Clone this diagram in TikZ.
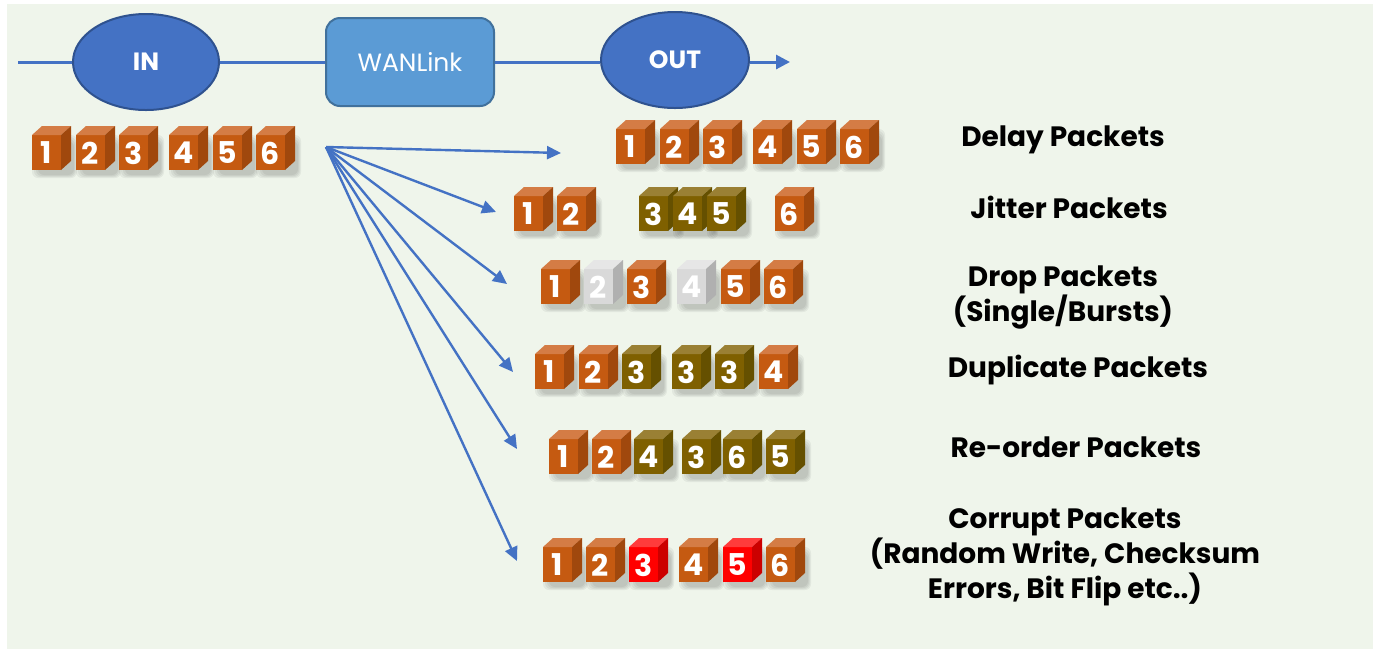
\documentclass[tikz,border=0pt]{standalone}
\usepackage{fontspec}
\setmainfont{Poppins}
\usetikzlibrary{arrows.meta,shapes.geometric}

\definecolor{bgcol}{HTML}{EFF5EB}
\definecolor{linecol}{HTML}{4472C4}
\definecolor{elledge}{HTML}{2F528F}
\definecolor{boxcol}{HTML}{5B9BD5}
\definecolor{boxedge}{HTML}{41719C}
% packet colours: F front, T top, S side
\definecolor{oF}{HTML}{C55A11}\definecolor{oT}{HTML}{D47C45}\definecolor{oS}{HTML}{A0480D}
\definecolor{gF}{HTML}{7F6000}\definecolor{gT}{HTML}{9A8034}\definecolor{gS}{HTML}{655000}
\definecolor{lF}{HTML}{D9D9D9}\definecolor{lT}{HTML}{E6E6E6}\definecolor{lS}{HTML}{B0B0B0}
\definecolor{rF}{HTML}{FF0000}\definecolor{rT}{HTML}{FF3B3B}\definecolor{rS}{HTML}{CC0000}

\pgfdeclarelayer{shade}
\pgfsetlayers{shade,main}

\tikzset{
  num/.style={text=white,font=\bfseries\fontsize{15}{15}\selectfont,inner sep=0pt},
  lbl/.style={align=center,font=\bfseries\fontsize{14}{17.5}\selectfont,inner sep=0pt},
  flow/.style={linecol,line width=1.5pt},
  arr/.style={linecol,line width=1.2pt,-{Triangle[length=7pt,width=6.5pt]}},
  ell/.style={ellipse,draw=elledge,line width=1pt,fill=linecol,text=white,
    font=\bfseries\fontsize{12.5}{12.5}\selectfont},
  wanbox/.style={rectangle,rounded corners=7pt,draw=boxedge,line width=1pt,fill=boxcol,
    text=white,font=\fontsize{12.5}{12.5}\selectfont,minimum width=84pt,minimum height=44pt}
}

% one packet: x, y (top left of front face), colour, number
\newcommand{\pkt}[4]{
\begin{pgfonlayer}{shade}
\foreach \s in {0,2,4,6}
\fill[black,opacity=.05,rounded corners=3pt] (#1+\s,#2+\s) rectangle (#1+45-\s/2,#2+43-\s/2);
\end{pgfonlayer}
\fill[fill=#3F] (#1,#2) rectangle +(29,35);
\fill[fill=#3T] (#1,#2) -- +(10,-9) -- +(39,-9) -- +(29,0) -- cycle;
\fill[fill=#3S] (#1+29,#2) -- +(10,-9) -- +(10,26) -- +(0,35) -- cycle;
\node[num] at (#1+14.5,#2+18) {#4};
}

\begin{document}
\begin{tikzpicture}[x=0.5pt,y=-0.5pt]
\useasboundingbox (0,0) rectangle (1373,650);
\begin{pgfonlayer}{shade}
\fill[bgcol] (7,4) rectangle (1373,649);
\end{pgfonlayer}

% link
\coordinate (start) at (18,62);
\coordinate (end) at (790,62);
\node[ell,minimum width=73pt,minimum height=48pt] (in) at (146,62) {IN};
\node[wanbox] (wan) at (410,62) {WANLink};
\node[ell,minimum width=74pt,minimum height=48pt] (out) at (675,60) {OUT};
\draw[flow] (start) -- (in);
\draw[flow] (in) -- (wan);
\draw[flow] (wan) -- (out.west |- wan);
\draw[flow,-{Triangle[length=7pt,width=7pt]}] (out.east |- end) -- (end);

% incoming packets
\foreach \x/\n in {32/1,76/2,119/3,169/4,213/5,256/6}
\pkt{\x}{135}{o}{\n};

% impairments
\coordinate (src) at (326,147);
\coordinate (tDelay) at (561,153);
\coordinate (tJitter) at (496,212);
\coordinate (tDrop) at (507,284);
\coordinate (tDup) at (513,372);
\coordinate (tReorder) at (517,449);
\coordinate (tCorrupt) at (517,561);
\foreach \t in {tDelay,tJitter,tDrop,tDup,tReorder,tCorrupt}
\draw[arr] (src) -- (\t);

\foreach \x/\n in {616/1,660/2,703/3,753/4,797/5,840/6}
\pkt{\x}{129}{o}{\n};
\foreach \x/\c/\n in {514/o/1,557/o/2,639/g/3,673/g/4,707/g/5,775/o/6}
\pkt{\x}{196}{\c}{\n};
\foreach \x/\c/\n in {541/o/1,584/l/2,627/o/3,677/l/4,721/o/5,764/o/6}
\pkt{\x}{269}{\c}{\n};
\foreach \x/\c/\n in {535/o/1,579/o/2,622/g/3,672/g/3,715/g/3,759/o/4}
\pkt{\x}{354}{\c}{\n};
\foreach \x/\c/\n in {549/o/1,592/o/2,634/g/4,682/g/3,723/g/6,766/g/5}
\pkt{\x}{439}{\c}{\n};
\foreach \x/\c/\n in {543/o/1,586/o/2,629/r/3,679/o/4,723/r/5,766/o/6}
\pkt{\x}{547}{\c}{\n};

\node[lbl] (lDelay) at (1063,140) {Delay Packets};
\node[lbl] (lJitter) at (1069,207) {Jitter Packets};
\node[lbl] (lDrop) at (1063,297) {Drop Packets\\(Single/Bursts)};
\node[lbl] (lDup) at (1078,370) {Duplicate Packets};
\node[lbl] (lReorder) at (1076,447) {Re-order Packets};
\node[lbl] (lCorrupt) at (1065,557) {Corrupt Packets\\(Random Write, Checksum\\Errors, Bit Flip etc..)};
\end{tikzpicture}
\end{document}
